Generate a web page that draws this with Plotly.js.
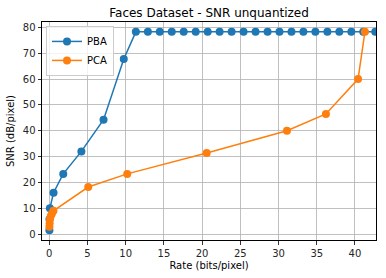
<!DOCTYPE html>
<html>
<head>
<meta charset="utf-8">
<script src="https://cdn.plot.ly/plotly-3.0.1.min.js"></script>
<style>html,body{margin:0;padding:0;background:#fff;}#chart{width:386px;height:278px;}</style>
</head>
<body>
<div id="chart"></div>
<script>
const pbaRate = [0.02, 0.03, 0.08, 0.56, 1.83, 4.2, 7.1, 9.75,
  11.33, 12.9, 14.46, 16.03, 17.59, 19.16, 20.73, 22.29, 23.86, 25.42, 26.99,
  28.56, 30.12, 31.69, 33.25, 34.82, 36.39, 37.95, 39.52, 41.08, 42.65];
const pbaSnr = [1.5, 5.7, 10.0, 16.0, 23.3, 32.0, 44.3, 67.8,
  78.3, 78.3, 78.3, 78.3, 78.3, 78.3, 78.3, 78.3, 78.3, 78.3, 78.3,
  78.3, 78.3, 78.3, 78.3, 78.3, 78.3, 78.3, 78.3, 78.3, 78.3];
const pcaRate = [0.02, 0.05, 0.1, 0.2, 0.35, 0.55, 5.1, 10.2, 20.6, 31.1, 36.2, 40.4, 41.3];
const pcaSnr = [2.8, 4.2, 5.8, 7.0, 8.0, 9.0, 18.2, 23.3, 31.4, 40.0, 46.5, 60.0, 78.3];
const seriesNames = ["PBA", "PCA"];
const xTicks = [0, 5, 10, 15, 20, 25, 30, 35, 40];
const yTicks = [0, 10, 20, 30, 40, 50, 60, 70, 80];

const font = "DejaVu Sans, sans-serif";
const traces = [
  {x: pbaRate, y: pbaSnr, name: seriesNames[0], mode: "lines+markers",
   line: {color: "#1f77b4", width: 1.5}, marker: {color: "#1f77b4", size: 8}},
  {x: pcaRate, y: pcaSnr, name: seriesNames[1], mode: "lines+markers",
   line: {color: "#ff7f0e", width: 1.5}, marker: {color: "#ff7f0e", size: 8}}
];
const axisCommon = {
  showline: true, mirror: true, linecolor: "#000", linewidth: 1,
  showgrid: true, gridcolor: "#b0b0b0", gridwidth: 0.8,
  zeroline: false, ticks: "outside", ticklen: 3.5, tickwidth: 0.8, tickcolor: "#000",
  tickfont: {family: font, size: 10, color: "#262626"}
};
const layout = {
  width: 386, height: 278,
  margin: {l: 42, r: 10, t: 22, b: 38},
  paper_bgcolor: "#fff", plot_bgcolor: "#fff",
  title: {text: "Faces Dataset - SNR unquantized", font: {family: font, size: 12, color: "#000"},
    x: 0.5416, xanchor: "center", y: 0.955, yanchor: "middle"},
  xaxis: Object.assign({}, axisCommon, {range: [-0.95, 42.75], tickvals: xTicks,
    title: {text: "Rate (bits/pixel)", font: {family: font, size: 10, color: "#000"}, standoff: 4}}),
  yaxis: Object.assign({}, axisCommon, {range: [-2.3, 82.1], tickvals: yTicks,
    title: {text: "SNR (dB/pixel)", font: {family: font, size: 10, color: "#000"}, standoff: 6}}),
  showlegend: true,
  legend: {x: 0.012, y: 0.982, xanchor: "left", yanchor: "top",
    bgcolor: "rgba(255,255,255,0.8)", bordercolor: "#cccccc", borderwidth: 1,
    font: {family: font, size: 10, color: "#000"}, tracegroupgap: 0, itemwidth: 30}
};
Plotly.newPlot("chart", traces, layout, {displayModeBar: false, staticPlot: true});
</script>
</body>
</html>
